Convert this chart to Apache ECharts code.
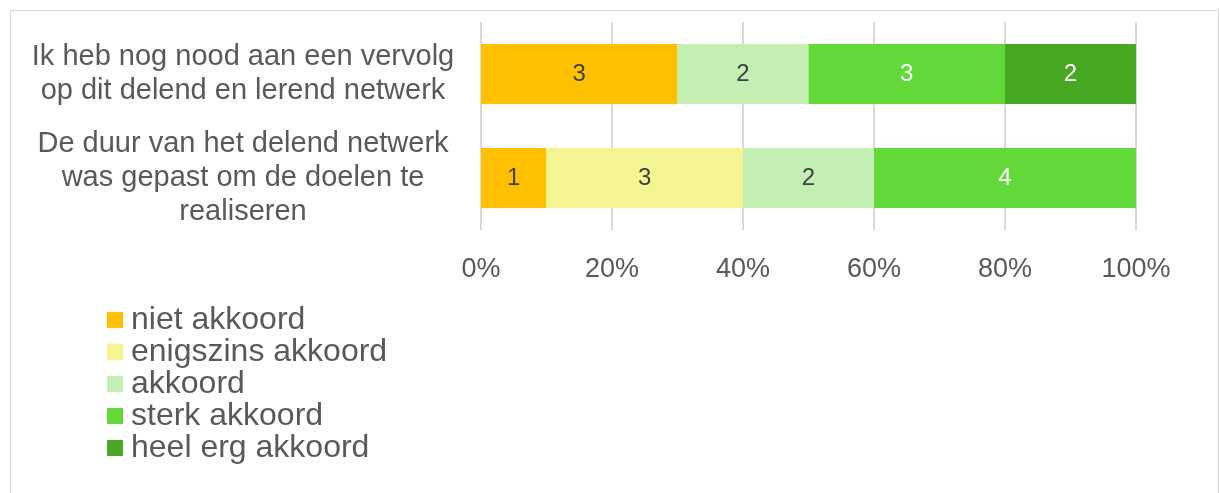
<!DOCTYPE html>
<html lang="nl">
<head>
    <meta charset="UTF-8" />
    <title>Delend en lerend netwerk</title>
    <script src="https://cdn.jsdelivr.net/npm/echarts@6/dist/echarts.min.js"></script>
    <style>
        body { margin: 0; background: #fff; }
        #frame { position: absolute; left: 10px; top: 10px; width: 1207px; height: 520px; border: 1px solid #d9d9d9; }
        #main { position: absolute; left: 0; top: 0; width: 1220px; height: 493px; }
    </style>
</head>
<body>
<div id="frame"></div>
<div id="main"></div>
<script type="text/javascript">
    // vragen (van boven naar onder)
    var categories = [
        'Ik heb nog nood aan een vervolg\nop dit delend en lerend netwerk',
        'De duur van het delend netwerk\nwas gepast om de doelen te\nrealiseren'
    ];
    var seriesNames = ['niet akkoord', 'enigszins akkoord', 'akkoord', 'sterk akkoord', 'heel erg akkoord'];
    // aantallen antwoorden per vraag
    var nietAkkoord = [3, 1];
    var enigszinsAkkoord = [0, 3];
    var akkoord = [2, 2];
    var sterkAkkoord = [3, 4];
    var heelErgAkkoord = [2, 0];
    var tickLabels = ['0%', '20%', '40%', '60%', '80%', '100%'];

    var colors = ['#FFC000', '#F4F493', '#C3EFB3', '#62D938', '#47A823'];
    var labelColors = ['#404040', '#404040', '#404040', '#ffffff', '#ffffff'];
    var counts = [nietAkkoord, enigszinsAkkoord, akkoord, sterkAkkoord, heelErgAkkoord];
    var font = "'Liberation Sans', Arial, sans-serif";

    var totals = categories.map(function (c, i) {
        var t = 0;
        for (var s = 0; s < counts.length; s++) t += counts[s][i];
        return t;
    });

    var myChart = echarts.init(document.getElementById('main'));
    var series = [];
    for (var s = 0; s < counts.length; s++) {
        (function (s) {
            series.push({
                name: seriesNames[s],
                type: 'bar',
                stack: 'totaal',
                barWidth: 60,
                itemStyle: { color: colors[s] },
                label: {
                    show: true,
                    position: 'inside',
                    color: labelColors[s],
                    fontFamily: font,
                    fontSize: 24,
                    formatter: function (p) {
                        var n = counts[s][p.dataIndex];
                        return n > 0 ? String(n) : '';
                    }
                },
                data: counts[s].map(function (v, i) { return v / totals[i] * 100; })
            });
        })(s);
    }

    var option = {
        animation: false,
        textStyle: { fontFamily: font },
        grid: { left: 481, right: 84, top: 22, height: 208 },
        legend: {
            orient: 'vertical',
            left: 107,
            top: 304,
            padding: 0,
            itemWidth: 16,
            itemHeight: 16,
            itemGap: 0,
            icon: 'rect',
            data: seriesNames,
            textStyle: { color: '#595959', fontSize: 32, lineHeight: 31.5, fontFamily: font, padding: [0, 0, 0, 3] }
        },
        xAxis: {
            type: 'value',
            min: 0,
            max: 100,
            interval: 20,
            axisLine: { show: false },
            axisTick: { show: false },
            splitLine: { show: true, lineStyle: { color: '#d9d9d9', width: 2 } },
            axisLabel: {
                color: '#595959',
                fontSize: 27,
                fontFamily: font,
                margin: 26,
                formatter: function (v) { return tickLabels[Math.round(v / 20)]; }
            }
        },
        yAxis: {
            type: 'category',
            inverse: true,
            data: categories,
            axisLine: { show: false },
            axisTick: { show: false },
            axisLabel: {
                color: '#595959',
                fontSize: 29,
                fontFamily: font,
                lineHeight: 34,
                align: 'center',
                margin: 238
            }
        },
        series: series
    };
    myChart.setOption(option);
</script>
</body>
</html>
